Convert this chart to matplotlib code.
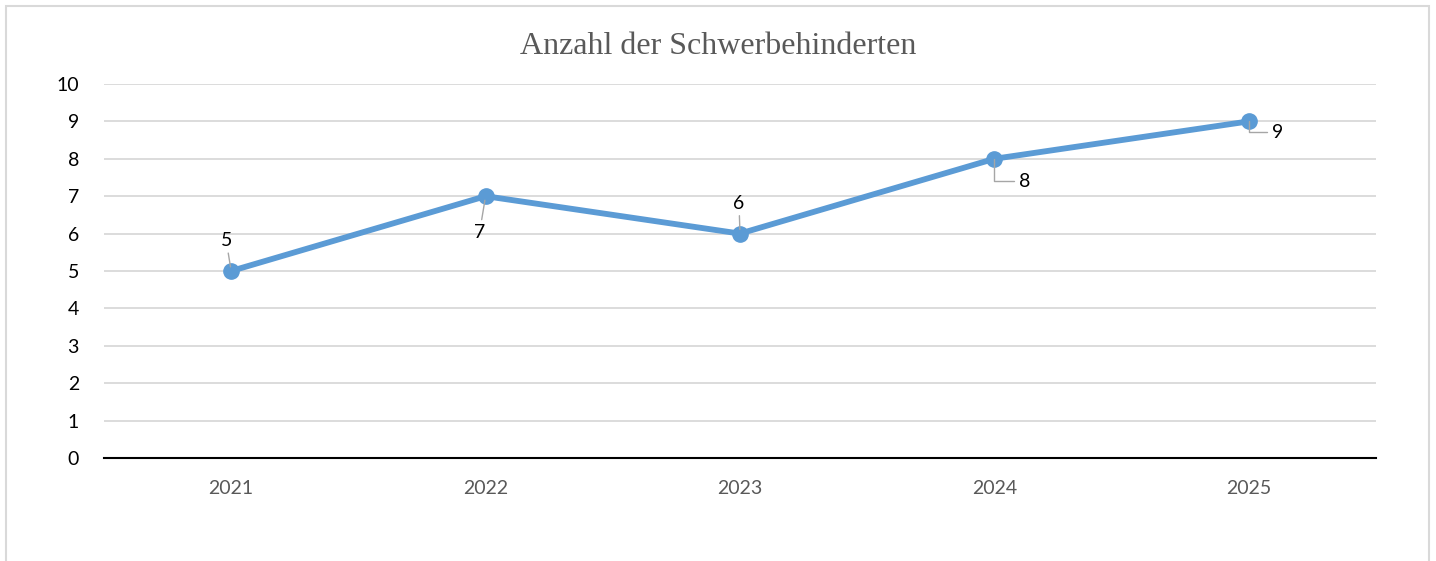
import matplotlib
matplotlib.use('Agg')
import matplotlib.pyplot as plt
from matplotlib.patches import Rectangle

# Daten
jahre = ['2021', '2022', '2023', '2024', '2025']
anzahl = [5, 7, 6, 8, 9]
y_ticks = list(range(0, 11))
titel = 'Anzahl der Schwerbehinderten'

plt.rcParams['font.family'] = ['Lato', 'DejaVu Sans']

fig = plt.figure(figsize=(14.36, 5.61), dpi=100)
ax = fig.add_axes([0.0724, 0.1836, 0.8858, 0.6667])

x = list(range(len(jahre)))
ax.plot(x, anzahl, color='#5B9BD5', linewidth=4.2, marker='o', markersize=11,
        solid_capstyle='round', zorder=3)

# Datenbeschriftungen mit Führungslinien
offsets = [(-3.6, 22), (-4.3, -26), (-0.7, 22), (23, -16), (22, -8)]
for i, (xi, yi) in enumerate(zip(x, anzahl)):
    dx, dy = offsets[i]
    if dx > 10:
        arrow = dict(arrowstyle='-', color='#A6A6A6', lw=1.0, shrinkA=2, shrinkB=0,
                     relpos=(0, 0.5), connectionstyle='angle,angleA=0,angleB=90,rad=0')
        ha = 'left'
        dx = dx - 5
    else:
        arrow = dict(arrowstyle='-', color='#A6A6A6', lw=1.0, shrinkA=1, shrinkB=3)
        ha = 'center'
    ax.annotate(str(anzahl[i]), xy=(xi, yi), xytext=(dx, dy),
                textcoords='offset points', ha=ha, va='center', fontsize=14,
                color='black', arrowprops=arrow, zorder=4)

ax.set_xlim(-0.5, 4.5)
ax.set_ylim(0, 10)
ax.set_yticks(y_ticks)
ax.set_xticks(x)
ax.set_xticklabels(jahre)

ax.grid(axis='y', color='#D9D9D9', linewidth=1.3)
ax.set_axisbelow(True)
for s in ['top', 'right', 'left']:
    ax.spines[s].set_visible(False)
ax.spines['bottom'].set_color('black')
ax.spines['bottom'].set_linewidth(1.5)
ax.spines['bottom'].set_zorder(2)

ax.tick_params(axis='y', length=0, pad=18, labelsize=14, labelcolor='black')
ax.tick_params(axis='x', length=0, pad=16, labelsize=14, labelcolor='#595959')

fig.text(0.5, 0.918, titel, ha='center', va='center', fontsize=23,
         color='#595959', family=['Liberation Serif', 'DejaVu Serif'])

# Rahmen
fig.patches.append(Rectangle((6 / 1436, -0.05), 1423 / 1436, 1 - 6 / 561 + 0.05,
                             transform=fig.transFigure, fill=False,
                             edgecolor='#D9D9D9', linewidth=1.5))

fig.savefig('out.png', dpi=100)
